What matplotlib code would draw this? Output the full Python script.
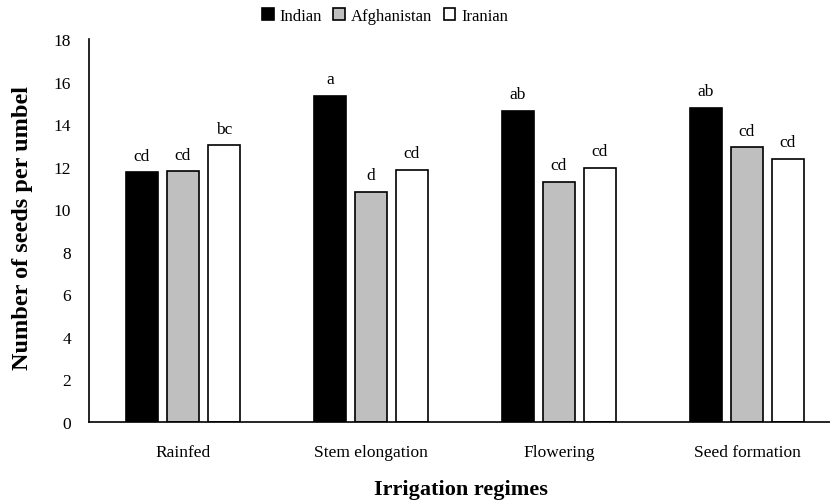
import matplotlib
matplotlib.use("Agg")
import matplotlib.pyplot as plt
import numpy as np

categories = ["Rainfed", "Stem elongation", "Flowering", "Seed formation"]
series_names = ["Indian", "Afghanistan", "Iranian"]
indian = [11.73, 15.33, 14.63, 14.77]
afghanistan = [11.80, 10.82, 11.29, 12.92]
iranian = [13.00, 11.86, 11.95, 12.37]
letters_indian = ["cd", "a", "ab", "ab"]
letters_afghanistan = ["cd", "d", "cd", "cd"]
letters_iranian = ["bc", "cd", "cd", "cd"]
yticks = [0, 2, 4, 6, 8, 10, 12, 14, 16, 18]

plt.rcParams['font.family'] = ['Liberation Serif', 'DejaVu Serif']

fig = plt.figure(figsize=(8.30, 5.02), dpi=100)
ax = fig.add_axes([89/830, 1 - 423/502, 752/830, (423 - 40)/502])

x = np.arange(len(categories)) + 0.5
w = 0.175
offs = [-0.218, 0.0, 0.218]
colors = ["#000000", "#BFBFBF", "#FFFFFF"]
all_vals = [indian, afghanistan, iranian]
all_letters = [letters_indian, letters_afghanistan, letters_iranian]
for vals, lets, off, col, name in zip(all_vals, all_letters, offs, colors, series_names):
    bars = ax.bar(x + off, vals, width=w, color=col, edgecolor="black", linewidth=1.2, label=name)
    for b, lt in zip(bars, lets):
        ax.annotate(lt, (b.get_x() + b.get_width() / 2, b.get_height()),
                    xytext=(0, 6), textcoords="offset points", ha="center", va="bottom",
                    fontsize=12.5)

ax.set_xlim(0, 4)
ax.set_ylim(0, 18)
ax.set_yticks(yticks)
ax.set_xticks(x)
ax.set_xticklabels(categories, fontsize=12.5)
ax.tick_params(axis="y", length=0, pad=13, labelsize=12.5)
ax.tick_params(axis="x", length=0, pad=16)
for s in ["top", "right"]:
    ax.spines[s].set_visible(False)
ax.spines["left"].set_linewidth(1.2)
ax.spines["bottom"].set_linewidth(1.2)

fig.text(461/830, 1 - 490/502, "Irrigation regimes", ha="center", va="center",
         fontsize=16, fontweight="bold")
fig.text(23/830, 1 - 228/502, "Number of seeds per umbel", ha="center", va="center",
         rotation=90, fontsize=17.5, fontweight="bold")

leg = fig.legend(loc="center", bbox_to_anchor=(385/830, 1 - 17/502), ncol=3, frameon=False,
                 fontsize=12, handlelength=0.7, handleheight=0.7, handletextpad=0.35,
                 columnspacing=0.7, borderpad=0)

fig.savefig("out.png", dpi=100)
